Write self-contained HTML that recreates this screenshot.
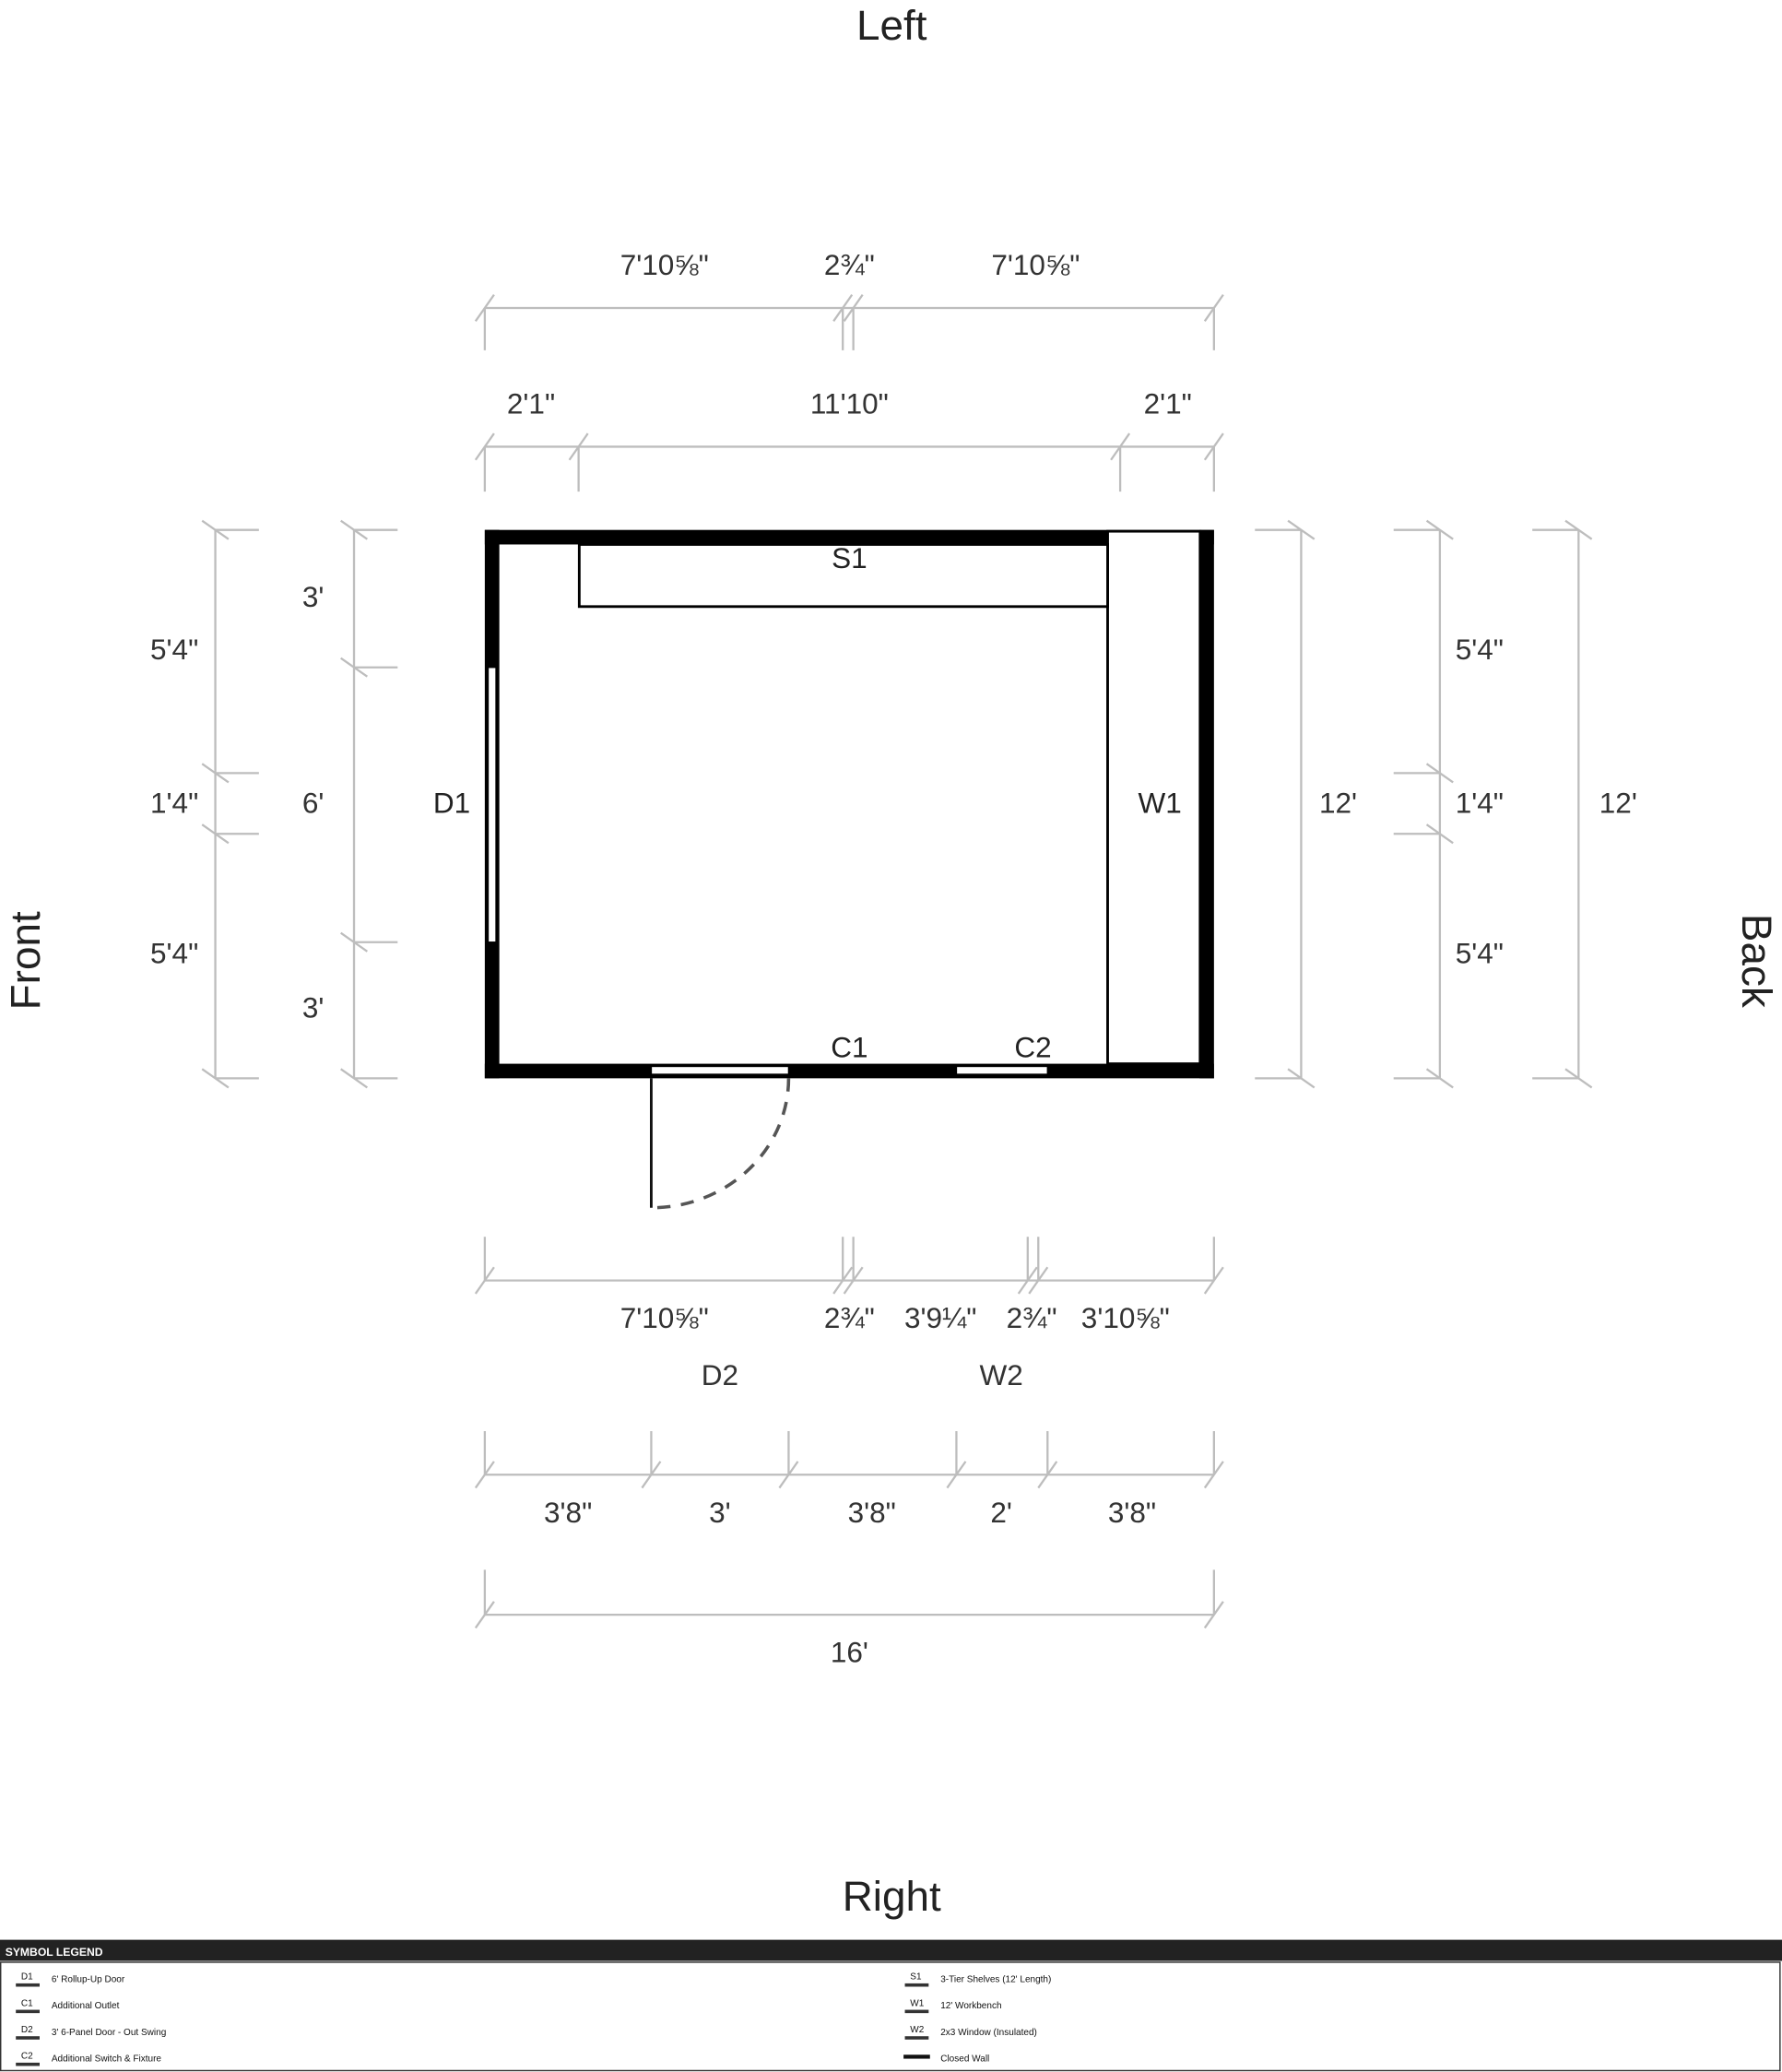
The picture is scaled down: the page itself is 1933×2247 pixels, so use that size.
<!DOCTYPE html>
<html><head><style>
html,body{margin:0;padding:0;background:#fff;}
svg{display:block;}
text{font-family:"Liberation Sans",Arial,sans-serif;}
</style></head><body>
<svg width="1933" height="2247" viewBox="0 0 1349 1568" xmlns="http://www.w3.org/2000/svg">
<rect width="1349" height="1568" fill="#fff"/>
<g font-size="32" fill="#222" text-anchor="middle">
<text x="675" y="30">Left</text>
<text x="675" y="1446">Right</text>
<text transform="translate(30,727) rotate(-90)">Front</text>
<text transform="translate(1319,727) rotate(90)">Back</text>
</g>
<!-- dimension lines -->
<g stroke="#bdbdbd" stroke-width="1.6" fill="none">
<!-- top row 1 -->
<path d="M367 233H919 M367 233V265 M638 233V265 M646 233V265 M919 233V265"/>
<path d="M360 243L374 223 M631 243L645 223 M639 243L653 223 M912 243L926 223"/>
<!-- top row 2 -->
<path d="M367 338H919 M367 338V372 M438 338V372 M848 338V372 M919 338V372"/>
<path d="M360 348L374 328 M431 348L445 328 M841 348L855 328 M912 348L926 328"/>
<!-- left 1 -->
<path d="M163 401V816 M163 401H196 M163 585H196 M163 631H196 M163 816H196"/>
<path d="M153 394L173 408 M153 578L173 592 M153 624L173 638 M153 809L173 823"/>
<!-- left 2 -->
<path d="M268 401V816 M268 401H301 M268 505H301 M268 713H301 M268 816H301"/>
<path d="M258 394L278 408 M258 498L278 512 M258 706L278 720 M258 809L278 823"/>
<!-- right 1 -->
<path d="M985 401V816 M950 401H985 M950 816H985"/>
<path d="M975 394L995 408 M975 809L995 823"/>
<!-- right 2 -->
<path d="M1090 401V816 M1055 401H1090 M1055 585H1090 M1055 631H1090 M1055 816H1090"/>
<path d="M1080 394L1100 408 M1080 578L1100 592 M1080 624L1100 638 M1080 809L1100 823"/>
<!-- right 3 -->
<path d="M1195 401V816 M1160 401H1195 M1160 816H1195"/>
<path d="M1185 394L1205 408 M1185 809L1205 823"/>
<!-- bottom A -->
<path d="M367 969H919 M367 936V969 M638 936V969 M646 936V969 M778 936V969 M786 936V969 M919 936V969"/>
<path d="M360 979L374 959 M631 979L645 959 M639 979L653 959 M771 979L785 959 M779 979L793 959 M912 979L926 959"/>
<!-- bottom B -->
<path d="M367 1116H919 M367 1083V1116 M493 1083V1116 M597 1083V1116 M724 1083V1116 M793 1083V1116 M919 1083V1116"/>
<path d="M360 1126L374 1106 M486 1126L500 1106 M590 1126L604 1106 M717 1126L731 1106 M786 1126L800 1106 M912 1126L926 1106"/>
<!-- bottom C -->
<path d="M367 1222H919 M367 1188V1222 M919 1188V1222"/>
<path d="M360 1232L374 1212 M912 1232L926 1212"/>
</g>
<!-- dimension labels -->
<g font-size="22" fill="#333" text-anchor="middle">
<text x="503" y="208">7'10⅝"</text><text x="643" y="208">2¾"</text><text x="784" y="208">7'10⅝"</text>
<text x="402" y="313">2'1"</text><text x="643" y="313">11'10"</text><text x="884" y="313">2'1"</text>
<text x="132" y="499">5'4"</text><text x="132" y="615">1'4"</text><text x="132" y="729">5'4"</text>
<text x="237" y="459">3'</text><text x="237" y="615">6'</text><text x="237" y="770">3'</text>
<text x="1013" y="615">12'</text>
<text x="1120" y="499">5'4"</text><text x="1120" y="615">1'4"</text><text x="1120" y="729">5'4"</text>
<text x="1225" y="615">12'</text>
<text x="503" y="1005">7'10⅝"</text><text x="643" y="1005">2¾"</text><text x="712" y="1005">3'9¼"</text><text x="781" y="1005">2¾"</text><text x="852" y="1005">3'10⅝"</text>
<text x="545" y="1048">D2</text><text x="758" y="1048">W2</text>
<text x="430" y="1152">3'8"</text><text x="545" y="1152">3'</text><text x="660" y="1152">3'8"</text><text x="758" y="1152">2'</text><text x="857" y="1152">3'8"</text>
<text x="643" y="1258">16'</text>
</g>
<!-- walls -->
<g>
<rect x="367" y="401" width="552" height="11" fill="#000"/>
<rect x="367" y="805" width="552" height="11" fill="#000"/>
<rect x="367" y="401" width="11" height="415" fill="#000"/>
<rect x="908" y="401" width="11" height="415" fill="#000"/>
<!-- W1 box -->
<rect x="838.5" y="402" width="70" height="403" fill="#fff" stroke="#000" stroke-width="2"/>
<!-- S1 -->
<rect x="438.5" y="412" width="400" height="47" fill="#fff" stroke="#000" stroke-width="2"/>
<!-- D1 opening -->
<rect x="369.5" y="505" width="6" height="208" fill="#fff" stroke="#000" stroke-width="1"/>
<!-- D2 opening -->
<rect x="493" y="807" width="104" height="6" fill="#fff" stroke="#000" stroke-width="1"/>
<!-- W2 opening -->
<rect x="724" y="807" width="69" height="6" fill="#fff" stroke="#000" stroke-width="1"/>
<!-- door leaf -->
<path d="M493 816V914" stroke="#111" stroke-width="2"/>
<path d="M597 816A104 98 0 0 1 493 914" stroke="#555" stroke-width="2.5" fill="none" stroke-dasharray="10 8"/>
</g>
<g font-size="22" fill="#222" text-anchor="middle">
<text x="643" y="430">S1</text>
<text x="342" y="615">D1</text>
<text x="878" y="615">W1</text>
<text x="643" y="800">C1</text>
<text x="782" y="800">C2</text>
</g>
<!-- legend -->
<rect x="0" y="1468" width="1349" height="16" fill="#222"/>
<text x="4" y="1480" font-size="8.5" font-weight="bold" fill="#fff">SYMBOL LEGEND</text>
<rect x="0.5" y="1485" width="1347" height="82" fill="none" stroke="#333" stroke-width="1"/>
<g font-size="7" fill="#111">
<text x="16" y="1498" font-size="7">D1</text><rect x="12" y="1501" width="18" height="2.5" fill="#333"/><text x="39" y="1500">6' Rollup-Up Door</text>
<text x="16" y="1518">C1</text><rect x="12" y="1521" width="18" height="2.5" fill="#333"/><text x="39" y="1520">Additional Outlet</text>
<text x="16" y="1538">D2</text><rect x="12" y="1541" width="18" height="2.5" fill="#333"/><text x="39" y="1540">3' 6-Panel Door - Out Swing</text>
<text x="16" y="1558">C2</text><rect x="12" y="1561" width="18" height="2.5" fill="#333"/><text x="39" y="1560">Additional Switch &amp; Fixture</text>
<text x="689" y="1498">S1</text><rect x="685" y="1501" width="18" height="2.5" fill="#333"/><text x="712" y="1500">3-Tier Shelves (12' Length)</text>
<text x="689" y="1518">W1</text><rect x="685" y="1521" width="18" height="2.5" fill="#333"/><text x="712" y="1520">12' Workbench</text>
<text x="689" y="1538">W2</text><rect x="685" y="1541" width="18" height="2.5" fill="#333"/><text x="712" y="1540">2x3 Window (Insulated)</text>
<rect x="684" y="1555" width="20" height="3" fill="#111"/><text x="712" y="1560">Closed Wall</text>
</g>
</svg>
</body></html>
